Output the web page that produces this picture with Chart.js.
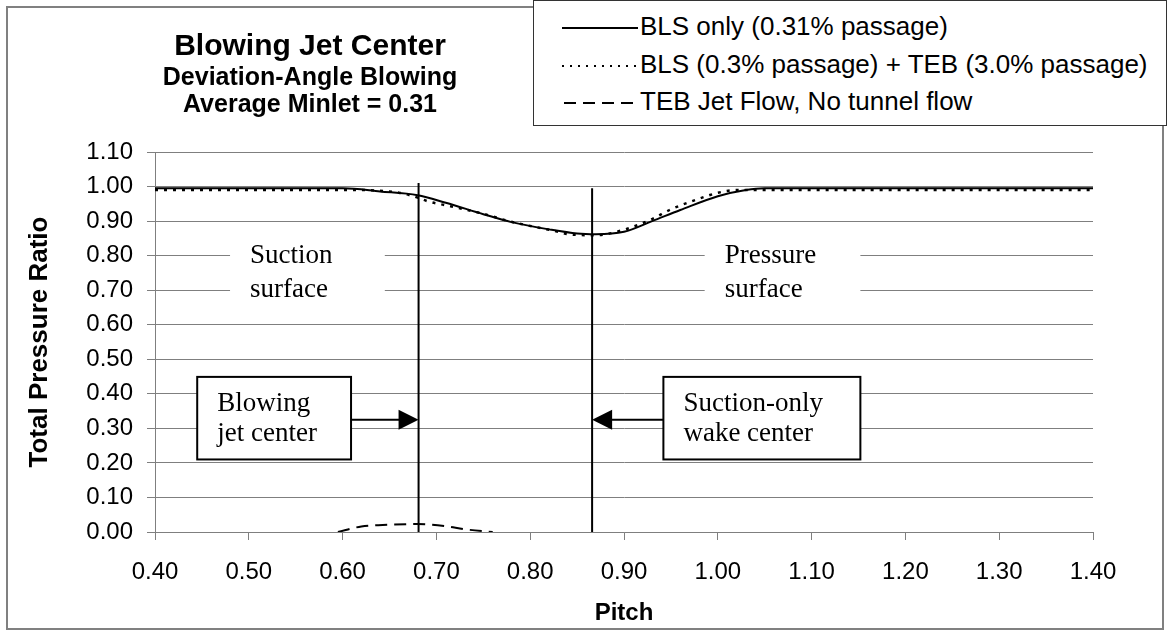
<!DOCTYPE html>
<html>
<head>
<meta charset="utf-8">
<script src="https://cdn.jsdelivr.net/npm/chart.js@4.4.1/dist/chart.umd.min.js"></script>
<style>
  body { margin: 0; background: #fff; }
  #wrap { position: relative; width: 1169px; height: 635px; font-family: 'Liberation Sans', Arial, sans-serif; color: #000; }
  #frame { position: absolute; left: 6px; top: 6px; width: 1158px; height: 624px; border: 2px solid #808080; box-sizing: border-box; }
  #c { position: absolute; left: 0; top: 0; z-index: 1; }
  .ttl { position: absolute; left: 80px; width: 460px; text-align: center; font-weight: bold; line-height: 1; white-space: nowrap; z-index: 2; }
  #legend { position: absolute; left: 533px; top: 0; width: 634px; height: 126px; border: 1px solid #333; background: #fff; box-sizing: border-box; z-index: 2; }
  .row { position: absolute; left: 28px; font-size: 26px; line-height: 1; white-space: nowrap; }
  .row svg { vertical-align: middle; margin-right: 2px; }
</style>
</head>
<body>
<div id="wrap">
  <div id="frame"></div>
  <canvas id="c" width="1169" height="635"></canvas>
  <div class="ttl" style="top:30px;font-size:30px;">Blowing Jet Center</div>
  <div class="ttl" style="top:64px;font-size:25px;">Deviation-Angle Blowing</div>
  <div class="ttl" style="top:91px;font-size:25px;">Average Minlet = 0.31</div>
  <div id="legend">
    <div class="row" style="top:12px;"><svg width="76" height="6"><line x1="0" y1="3" x2="76" y2="3" stroke="#000" stroke-width="2"/></svg>BLS only (0.31% passage)</div>
    <div class="row" style="top:50px;"><svg width="76" height="6"><line x1="0" y1="3" x2="76" y2="3" stroke="#000" stroke-width="2" stroke-dasharray="2,6"/></svg>BLS (0.3% passage) + TEB (3.0% passage)</div>
    <div class="row" style="top:87px;"><svg width="76" height="6"><line x1="2" y1="3" x2="76" y2="3" stroke="#000" stroke-width="2" stroke-dasharray="12,7"/></svg>TEB Jet Flow, No tunnel flow</div>
  </div>
</div>
<script>
// BLS only (0.31% passage)
const blsPitch = [0.40, 0.50, 0.60, 0.64, 0.68, 0.71, 0.75, 0.78, 0.82, 0.85, 0.87, 0.90, 0.93, 0.96, 1.00, 1.03, 1.05, 1.10, 1.20, 1.30, 1.40];
const blsRatio = [0.995, 0.995, 0.995, 0.986, 0.975, 0.953, 0.920, 0.897, 0.876, 0.864, 0.862, 0.869, 0.900, 0.932, 0.972, 0.990, 0.995, 0.995, 0.995, 0.995, 0.995];

// BLS (0.3% passage) + TEB (3.0% passage)
const tebPitch = [0.40, 0.50, 0.61, 0.66, 0.68, 0.69, 0.715, 0.73, 0.75, 0.78, 0.83, 0.84, 0.87, 0.90, 0.93, 0.95, 0.975, 0.99, 1.00, 1.02, 1.10, 1.20, 1.30, 1.40];
const tebRatio = [0.990, 0.990, 0.990, 0.982, 0.968, 0.958, 0.943, 0.934, 0.921, 0.898, 0.869, 0.862, 0.859, 0.875, 0.906, 0.934, 0.960, 0.974, 0.982, 0.990, 0.990, 0.990, 0.990, 0.990];

// TEB jet flow, no tunnel flow
const jetPitch = [0.595, 0.62, 0.65, 0.68, 0.71, 0.73, 0.76];
const jetRatio = [0.000, 0.016, 0.021, 0.023, 0.017, 0.008, 0.000];

// jet center / wake center markers
const markerPitch = [0.681, 0.866];
const markerTop = [1.01, 0.995];

const pts = (xs, ys) => xs.map((v, i) => ({ x: v, y: ys[i] }));

const serif = "'Liberation Serif', 'Times New Roman', serif";

const notes = {
    id: 'notes',
    beforeDatasetsDraw(chart) {
        const { ctx } = chart;
        const x = chart.scales.x, y = chart.scales.y;
        const px = v => x.getPixelForValue(v);
        const py = v => y.getPixelForValue(v);
        ctx.save();
        ctx.font = '27px ' + serif;
        ctx.fillStyle = '#000';
        ctx.textBaseline = 'middle';

        // plain labels with white backing (hide the gridlines)
        const plain = [
            { x0: 0.48, x1: 0.645, lines: ['Suction', 'surface'] },
            { x0: 0.986, x1: 1.152, lines: ['Pressure', 'surface'] }
        ];
        for (const p of plain) {
            ctx.fillStyle = '#fff';
            ctx.fillRect(px(p.x0), py(0.84), px(p.x1) - px(p.x0), py(0.66) - py(0.84));
            ctx.fillStyle = '#000';
            ctx.fillText(p.lines[0], px(p.x0) + 20, py(0.80));
            ctx.fillText(p.lines[1], px(p.x0) + 20, py(0.70));
        }

        // boxed labels with arrows to the marker lines
        const boxes = [
            { x0: 0.445, x1: 0.609, tip: markerPitch[0], lines: ['Blowing', 'jet center'] },
            { x0: 0.942, x1: 1.152, tip: markerPitch[1], lines: ['Suction-only', 'wake center'] }
        ];
        for (const b of boxes) {
            const l = px(b.x0), r = px(b.x1), t = py(0.449), btm = py(0.21);
            ctx.fillStyle = '#fff';
            ctx.fillRect(l, t, r - l, btm - t);
            ctx.strokeStyle = '#000';
            ctx.lineWidth = 2;
            ctx.strokeRect(l, t, r - l, btm - t);
            ctx.fillStyle = '#000';
            ctx.fillText(b.lines[0], l + 20, t + 27);
            ctx.fillText(b.lines[1], l + 20, t + 57);

            const ay = py(0.325);
            const tip = px(b.tip);
            const from = b.tip > b.x1 ? r : l;
            const dir = Math.sign(tip - from);
            ctx.beginPath();
            ctx.moveTo(from, ay);
            ctx.lineTo(tip - dir * 18, ay);
            ctx.stroke();
            ctx.beginPath();
            ctx.moveTo(tip, ay);
            ctx.lineTo(tip - dir * 20, ay - 10);
            ctx.lineTo(tip - dir * 20, ay + 10);
            ctx.closePath();
            ctx.fill();
        }
        ctx.restore();
    }
};

const markerSets = markerPitch.map((p, i) => ({
    data: [{ x: p, y: 0 }, { x: p, y: markerTop[i] }],
    borderColor: '#000',
    borderWidth: 2,
    pointRadius: 0
}));

new Chart(document.getElementById('c'), {
    type: 'line',
    data: {
        datasets: [
            {
                label: 'BLS only (0.31% passage)',
                data: pts(blsPitch, blsRatio),
                borderColor: '#000',
                borderWidth: 2,
                pointRadius: 0,
                cubicInterpolationMode: 'monotone'
            },
            {
                label: 'BLS (0.3% passage) + TEB (3.0% passage)',
                data: pts(tebPitch, tebRatio),
                borderColor: '#000',
                borderWidth: 2.5,
                borderDash: [3, 6],
                pointRadius: 0,
                cubicInterpolationMode: 'monotone'
            },
            {
                label: 'TEB Jet Flow, No tunnel flow',
                data: pts(jetPitch, jetRatio),
                borderColor: '#000',
                borderWidth: 2,
                borderDash: [12, 7],
                pointRadius: 0,
                cubicInterpolationMode: 'monotone'
            },
            ...markerSets
        ]
    },
    options: {
        responsive: false,
        animation: false,
        devicePixelRatio: 1,
        layout: { padding: { left: 0, top: 152, right: 76, bottom: 0 } },
        plugins: {
            legend: { display: false },
            tooltip: { enabled: false }
        },
        scales: {
            x: {
                type: 'linear',
                min: 0.4,
                max: 1.4,
                ticks: {
                    stepSize: 0.1,
                    padding: 18,
                    color: '#000',
                    font: { family: "'Liberation Sans', Arial", size: 24 },
                    callback: v => v.toFixed(2)
                },
                grid: { drawOnChartArea: false, tickLength: 8, color: '#7f7f7f' },
                border: { color: '#7f7f7f', width: 1 },
                title: {
                    display: true,
                    text: 'Pitch',
                    color: '#000',
                    font: { family: "'Liberation Sans', Arial", size: 24, weight: 'bold' },
                    padding: { top: 0, bottom: 7 }
                },
                afterFit(s) { s.height = 103; }
            },
            y: {
                min: 0,
                max: 1.1,
                ticks: {
                    stepSize: 0.1,
                    padding: 14,
                    color: '#000',
                    font: { family: "'Liberation Sans', Arial", size: 24 },
                    callback: v => v.toFixed(2)
                },
                grid: { color: '#7f7f7f', tickLength: 8, tickColor: '#7f7f7f' },
                border: { color: '#7f7f7f', width: 1 },
                title: {
                    display: true,
                    text: 'Total Pressure Ratio',
                    color: '#000',
                    font: { family: "'Liberation Sans', Arial", size: 26, weight: 'bold' },
                    padding: { top: 24, bottom: 0 }
                },
                afterFit(s) { s.width = 155; }
            }
        }
    },
    plugins: [notes]
});
</script>
</body>
</html>
